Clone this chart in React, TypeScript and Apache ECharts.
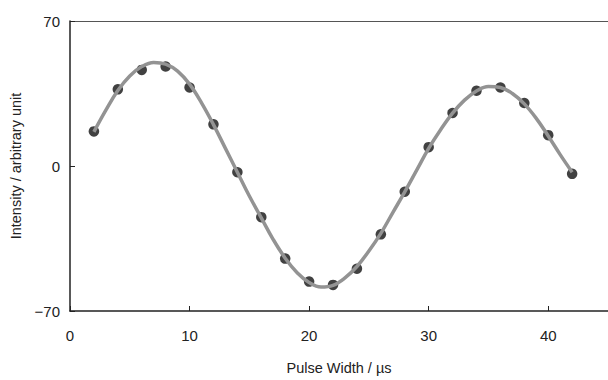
import React, { useEffect, useRef } from "react";
import * as echarts from "echarts";

const pulseWidths = [2, 4, 6, 8, 10, 12, 14, 16, 18, 20, 22, 24, 26, 28, 30, 32, 34, 36, 38, 40, 42];
const intensities = [16.7, 37.0, 46.4, 48.0, 37.9, 20.1, -3.0, -24.7, -44.7, -55.8, -57.4, -49.6, -33.0, -12.4, 9.1, 25.6, 36.3, 37.9, 30.4, 14.9, -3.8];

const fitX = [2, 3, 4, 5, 6, 7, 8, 9, 10, 11, 12, 13, 14, 15, 16, 17, 18, 19, 20, 21, 22, 23, 24, 25, 26, 27, 28, 29, 30, 31, 32, 33, 34, 35, 36, 37, 38, 39, 40, 41, 42];
const fitY = [16.5, 27, 36.5, 43.5, 48, 50, 49.2, 45.8, 39.5, 30.5, 20, 8.5, -3, -14.5, -25, -35.5, -44.5, -51.5, -56.2, -58.4, -57.6, -54, -48.5, -41, -32.5, -22.5, -12.5, -2, 8.5, 17.5, 25.5, 31.8, 36.2, 38.4, 37.9, 35, 30, 23, 14.5, 5.5, -3];

const xTicks = [0, 10, 20, 30, 40];
const yTicks = [-70, 0, 70];

const FONT = "Liberation Sans, Arial, sans-serif";

export default function App() {
  const ref = useRef<HTMLDivElement>(null);
  useEffect(() => {
    if (!ref.current) return;
    const chart = echarts.init(ref.current, undefined, { renderer: "svg" });
    chart.setOption({
      animation: false,
      backgroundColor: "#ffffff",
      grid: { left: 70, right: 0, top: 21, bottom: 64 },
      xAxis: [
        {
          type: "value",
          min: 0,
          max: 45,
          interval: 10,
          name: "Pulse Width / µs",
          nameLocation: "middle",
          nameGap: 49,
          nameTextStyle: { fontFamily: FONT, fontSize: 14.5, color: "#222" },
          axisLine: { show: true, onZero: false, lineStyle: { color: "#222", width: 1.5 } },
          axisTick: { show: true, inside: true, length: 5, lineStyle: { color: "#222" } },
          axisLabel: {
            fontFamily: FONT,
            fontSize: 15,
            color: "#222",
            margin: 17,
            showMaxLabel: false,
            formatter: (v: number) => (xTicks.includes(v) ? String(v) : ""),
          },
          splitLine: { show: false },
        },
        {
          type: "value",
          position: "top",
          min: 0,
          max: 45,
          axisLine: { show: true, onZero: false, lineStyle: { color: "#555", width: 1.2 } },
          axisTick: { show: false },
          axisLabel: { show: false },
          splitLine: { show: false },
        },
      ],
      yAxis: {
        type: "value",
        min: -70,
        max: 70,
        interval: 70,
        name: "Intensity / arbitrary unit",
        nameLocation: "middle",
        nameGap: 45,
        nameTextStyle: { fontFamily: FONT, fontSize: 14.5, color: "#222" },
        axisLine: { show: true, onZero: false, lineStyle: { color: "#222", width: 1.5 } },
        axisTick: { show: true, inside: true, length: 5, lineStyle: { color: "#222" } },
        axisLabel: {
          fontFamily: FONT,
          fontSize: 15,
          color: "#222",
          margin: 10,
          formatter: (v: number) => (yTicks.includes(v) ? (v < 0 ? "\u2212" + Math.abs(v) : String(v)) : ""),
        },
        splitLine: { show: false },
      },
      series: [
        {
          type: "scatter",
          data: pulseWidths.map((x, i) => [x, intensities[i]]),
          symbol: "circle",
          symbolSize: 10.5,
          itemStyle: { color: "#111" },
          z: 2,
        },
        {
          type: "line",
          data: fitX.map((x, i) => [x, fitY[i]]),
          smooth: 0.4,
          showSymbol: false,
          lineStyle: { color: "#939393", width: 3.5 },
          z: 3,
        },
      ],
    });
    return () => chart.dispose();
  }, []);
  return <div ref={ref} style={{ position: "fixed", left: 0, top: 0, width: 608, height: 380 }} />;
}
